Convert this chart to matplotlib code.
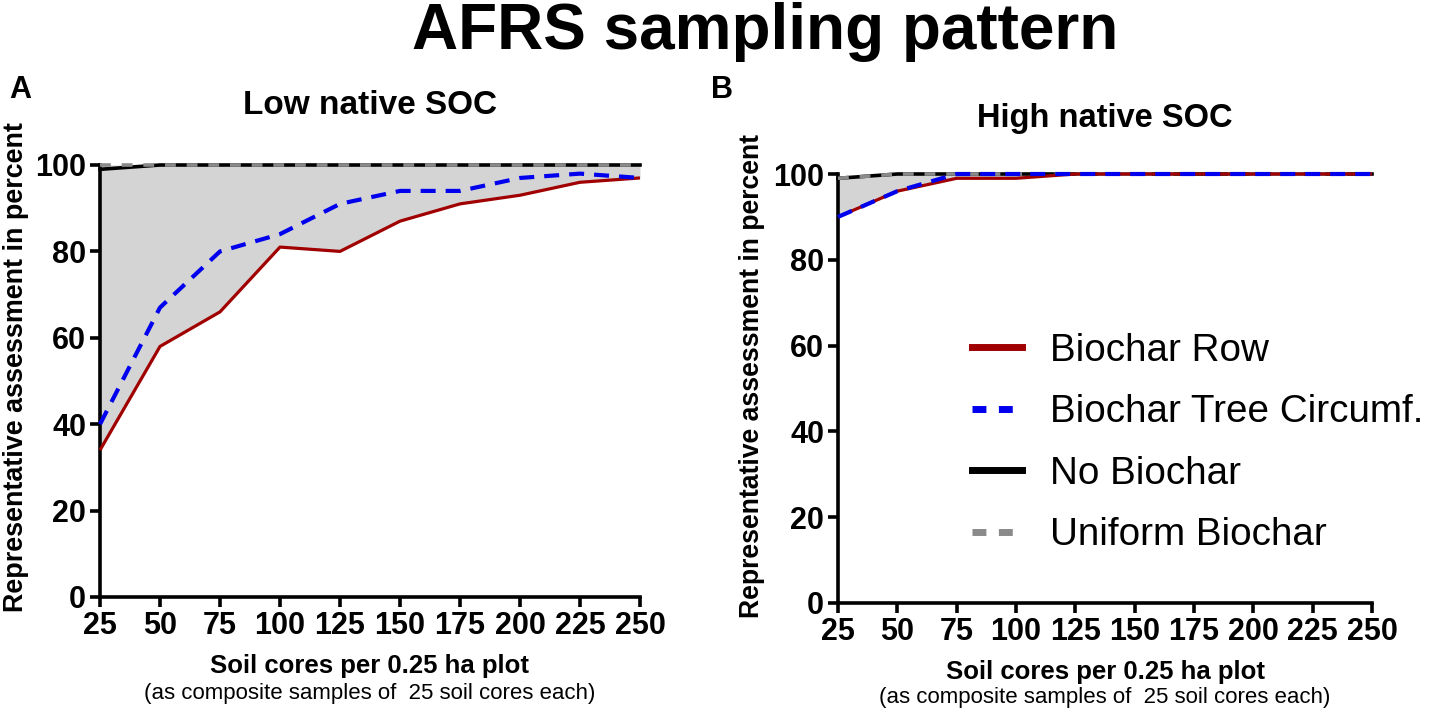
import matplotlib
matplotlib.use("Agg")
import matplotlib.pyplot as plt
from matplotlib.lines import Line2D
import numpy as np

# ---- data ----
cores = [25, 50, 75, 100, 125, 150, 175, 200, 225, 250]
xticks = [25, 50, 75, 100, 125, 150, 175, 200, 225, 250]
yticks = [0, 20, 40, 60, 80, 100]

low_row = [34, 58, 66, 81, 80, 87, 91, 93, 96, 97]
low_tree = [40, 67, 80, 84, 91, 94, 94, 97, 98, 97]
low_none = [99, 100, 100, 100, 100, 100, 100, 100, 100, 100]
low_uniform = [100, 100, 100, 100, 100, 100, 100, 100, 100, 100]

high_row = [90, 96, 99, 99, 100, 100, 100, 100, 100, 100]
high_tree = [90, 96, 100, 100, 100, 100, 100, 100, 100, 100]
high_none = [99, 100, 100, 100, 100, 100, 100, 100, 100, 100]
high_uniform = [99, 100, 100, 100, 100, 100, 100, 100, 100, 100]

labels = ["Biochar Row", "Biochar Tree Circumf.", "No Biochar", "Uniform Biochar"]

ARIAL = ["Liberation Sans", "DejaVu Sans"]

RED = "#a00000"
BLUE = "#0000ee"
GRAY = "#8a8a8a"
FILL = "#d4d4d4"

fig = plt.figure(figsize=(14.29, 7.16), dpi=100)
W, H = 1429, 716

def axrect(l, r, b, t):
    return [l / W, 1 - b / H, (r - l) / W, (b - t) / H]

axA = fig.add_axes(axrect(100, 640, 597, 165))
axB = fig.add_axes(axrect(838, 1372, 603, 174))

def draw(ax, row, tree, none, uni, ylfs, ylx, yly):
    x = np.array(cores)
    allv = np.vstack([row, tree, none, uni])
    ax.fill_between(x, allv.min(axis=0), allv.max(axis=0), color=FILL, lw=0, zorder=1)
    ax.plot(x, none, color="black", lw=2.6, zorder=3, clip_on=False)
    ax.plot(x, uni, color=GRAY, lw=2.6, ls=(0, (3, 3)), zorder=4, clip_on=False)
    ax.plot(x, row, color=RED, lw=2.3, zorder=5, clip_on=False, solid_capstyle="butt")
    ax.plot(x, tree, color=BLUE, lw=3.0, ls=(0, (3.6, 2.4)), zorder=6, clip_on=False)
    ax.set_xlim(25, 250)
    ax.set_ylim(0, 100)
    ax.set_xticks(xticks)
    ax.set_yticks(yticks)
    for s in ["top", "right"]:
        ax.spines[s].set_visible(False)
    for s in ["left", "bottom"]:
        ax.spines[s].set_linewidth(2.6)
    ax.tick_params(axis="both", direction="out", length=7, width=2.6, pad=3)
    for t in ax.get_xticklabels() + ax.get_yticklabels():
        t.set_fontfamily(ARIAL); t.set_fontweight("bold"); t.set_fontsize(22)
    ax.set_ylabel("Representative assessment in percent", family=ARIAL,
                  fontweight="bold", fontsize=ylfs)
    ax.yaxis.set_label_coords(ylx, yly, transform=fig.transFigure)

draw(axA, low_row, low_tree, low_none, low_uniform, 19.4, 29 / W, 1 - 367 / H)
draw(axB, high_row, high_tree, high_none, high_uniform, 19.2, 765 / W, 1 - 376 / H)

axA.set_xlabel("Soil cores per 0.25 ha plot", family=ARIAL, fontweight="bold",
               fontsize=18.5)
axA.xaxis.set_label_coords(370 / W, 1 - 666 / H, transform=fig.transFigure)
axB.set_xlabel("Soil cores per 0.25 ha plot", family=ARIAL, fontweight="bold",
               fontsize=18.5)
axB.xaxis.set_label_coords(1105 / W, 1 - 672 / H, transform=fig.transFigure)
axA.xaxis.label.set_va("center")
axB.xaxis.label.set_va("center")

fig.text(370 / W, 1 - 693 / H, "(as composite samples of  25 soil cores each)",
         family=ARIAL, fontsize=16, ha="center", va="center")
fig.text(1105 / W, 1 - 698 / H, "(as composite samples of  25 soil cores each)",
         family=ARIAL, fontsize=16, ha="center", va="center")

fig.text(765 / W, 1 - 32 / H, "AFRS sampling pattern", family=ARIAL,
         fontweight="bold", fontsize=46, ha="center", va="center")
fig.text(370 / W, 1 - 106 / H, "Low native SOC", family=ARIAL,
         fontweight="bold", fontsize=24, ha="center", va="center")
fig.text(1105 / W, 1 - 118 / H, "High native SOC", family=ARIAL,
         fontweight="bold", fontsize=23.5, ha="center", va="center")
fig.text(20 / W, 1 - 90 / H, "A", family=ARIAL, fontweight="bold",
         fontsize=22, ha="center", va="center")
fig.text(722 / W, 1 - 90 / H, "B", family=ARIAL, fontweight="bold",
         fontsize=22, ha="center", va="center")

handles = [
    Line2D([], [], color=RED, lw=5),
    Line2D([], [], color=BLUE, lw=5, ls=(0, (2, 1.8))),
    Line2D([], [], color="black", lw=5),
    Line2D([], [], color=GRAY, lw=5, ls=(0, (2, 1.8))),
]
fig.legend(handles, labels, loc="upper left",
           bbox_to_anchor=(972 / W, 1 - 333 / H), frameon=False,
           prop={"family": ARIAL, "size": 27.8}, handlelength=1.3,
           handletextpad=0.72, labelspacing=0.66, borderaxespad=0, borderpad=0)

fig.savefig("out.png", dpi=100)
